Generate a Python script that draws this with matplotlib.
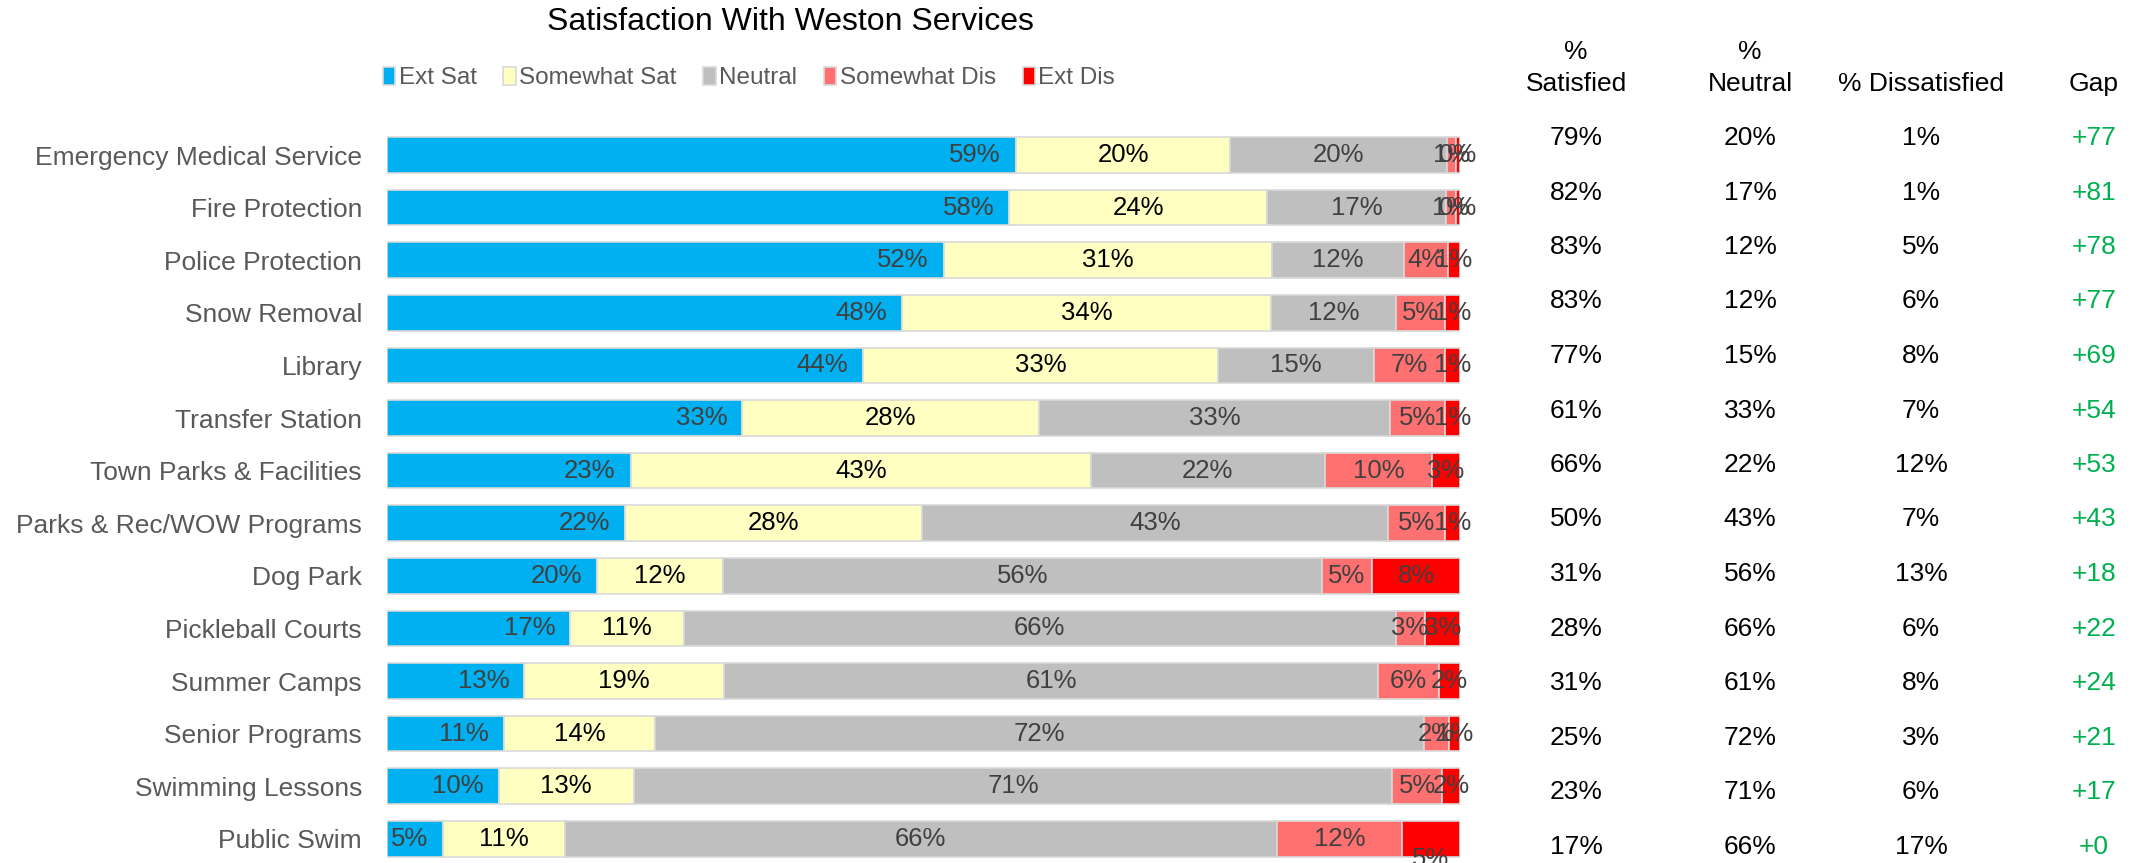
import matplotlib.pyplot as plt
import numpy as np

plt.rcParams['font.family'] = ['Liberation Sans', 'DejaVu Sans']

services = ['Emergency Medical Service', 'Fire Protection', 'Police Protection',
            'Snow Removal', 'Library', 'Transfer Station', 'Town Parks & Facilities',
            'Parks & Rec/WOW Programs', 'Dog Park', 'Pickleball Courts',
            'Summer Camps', 'Senior Programs', 'Swimming Lessons', 'Public Swim']

ext_sat = [58.6, 58.0, 51.9, 48.0, 44.4, 33.1, 22.7, 22.2, 19.6, 17.1, 12.8, 10.9, 10.4, 5.2]
smw_sat = [20.0, 24.0, 30.6, 34.4, 33.0, 27.7, 42.9, 27.7, 11.7, 10.6, 18.6, 14.1, 12.6, 11.4]
neutral = [20.2, 16.7, 12.3, 11.6, 14.6, 32.7, 21.8, 43.4, 55.8, 66.3, 61.0, 71.6, 70.7, 66.3]
smw_dis = [0.8, 0.9, 4.1, 4.6, 6.6, 5.1, 10.0, 5.3, 4.7, 2.7, 5.6, 2.4, 4.6, 11.7]
ext_dis = [0.4, 0.4, 1.1, 1.4, 1.4, 1.4, 2.6, 1.4, 8.2, 3.3, 2.0, 1.0, 1.7, 5.4]

pct_sat = [79, 82, 83, 83, 77, 61, 66, 50, 31, 28, 31, 25, 23, 17]
pct_neu = [20, 17, 12, 12, 15, 33, 22, 43, 56, 66, 61, 72, 71, 66]
pct_dis = [1, 1, 5, 6, 8, 7, 12, 7, 13, 6, 8, 3, 6, 17]
gap = [77, 81, 78, 77, 69, 54, 53, 43, 18, 22, 24, 21, 17, 0]

series = ['Ext Sat', 'Somewhat Sat', 'Neutral', 'Somewhat Dis', 'Ext Dis']
colors = ['#00B0F0', '#FFFFC1', '#BFBFBF', '#FF7171', '#FF0000']
label_colors = ['#404040', '#000000', '#404040', '#404040', '#404040']

W, H = 2136, 863
fig = plt.figure(figsize=(W / 100, H / 100), dpi=100)

# bars: axes spans full height, rows placed via ylim
ax = fig.add_axes([387 / W, 0, (1460 - 387) / W, 1])
row0, step = 155, 52.6
ax.set_ylim((H - row0) / step, -row0 / step)
ax.set_xlim(0, 100)

y = np.arange(len(services))
left = np.zeros(len(services))
for k, vals in enumerate([ext_sat, smw_sat, neutral, smw_dis, ext_dis]):
    vals = np.array(vals)
    ax.barh(y, vals, left=left, height=0.68, color=colors[k],
            edgecolor='#D9D9D9', linewidth=1.2, label=series[k])
    for i, v in enumerate(vals):
        txt = f'{v:.0f}%'
        if k == 0:
            ax.text(left[i] + v - 1.4, i, txt, ha='right', va='center',
                    fontsize=18.5, color=label_colors[k])
        else:
            dy = 0.38 if (k == 4 and i == len(services) - 1) else 0
            ax.text(left[i] + v / 2, i + dy, txt, ha='center', va='center',
                    fontsize=18.5, color=label_colors[k])
    left += vals

ax.set_yticks(y)
ax.set_yticklabels(services, fontsize=19, color='#595959')
ax.tick_params(axis='y', length=0, pad=18)
ax.set_xticks([])
for s in ax.spines.values():
    s.set_visible(False)

fig.text(790 / W, 1 - 22 / H, 'Satisfaction With Weston Services',
         ha='center', va='center', fontsize=23, color='black')

fig.legend(loc='center', bbox_to_anchor=(749 / W, 1 - 78 / H), ncol=5,
           frameon=False, fontsize=17.5, handlelength=0.5, handleheight=0.8,
           handletextpad=0.15, columnspacing=1.1, labelcolor='#595959')

# summary table on the right
col_x = [1576, 1750, 1921, 2094]
hdr = 19
fig.text(col_x[0] / W, 1 - 52 / H, '%', ha='center', va='center', fontsize=hdr)
fig.text(col_x[0] / W, 1 - 84 / H, 'Satisfied', ha='center', va='center', fontsize=hdr)
fig.text(col_x[1] / W, 1 - 52 / H, '%', ha='center', va='center', fontsize=hdr)
fig.text(col_x[1] / W, 1 - 84 / H, 'Neutral', ha='center', va='center', fontsize=hdr)
fig.text(col_x[2] / W, 1 - 84 / H, '% Dissatisfied', ha='center', va='center', fontsize=hdr)
fig.text(col_x[3] / W, 1 - 84 / H, 'Gap', ha='center', va='center', fontsize=hdr)

t0, tstep = 138, 54.5
for i in range(len(services)):
    yy = 1 - (t0 + tstep * i) / H
    fig.text(col_x[0] / W, yy, f'{pct_sat[i]}%', ha='center', va='center', fontsize=19)
    fig.text(col_x[1] / W, yy, f'{pct_neu[i]}%', ha='center', va='center', fontsize=19)
    fig.text(col_x[2] / W, yy, f'{pct_dis[i]}%', ha='center', va='center', fontsize=19)
    fig.text(col_x[3] / W, yy, f'+{gap[i]}', ha='center', va='center', fontsize=19,
             color='#00B050')

fig.savefig('out.png', dpi=100)
